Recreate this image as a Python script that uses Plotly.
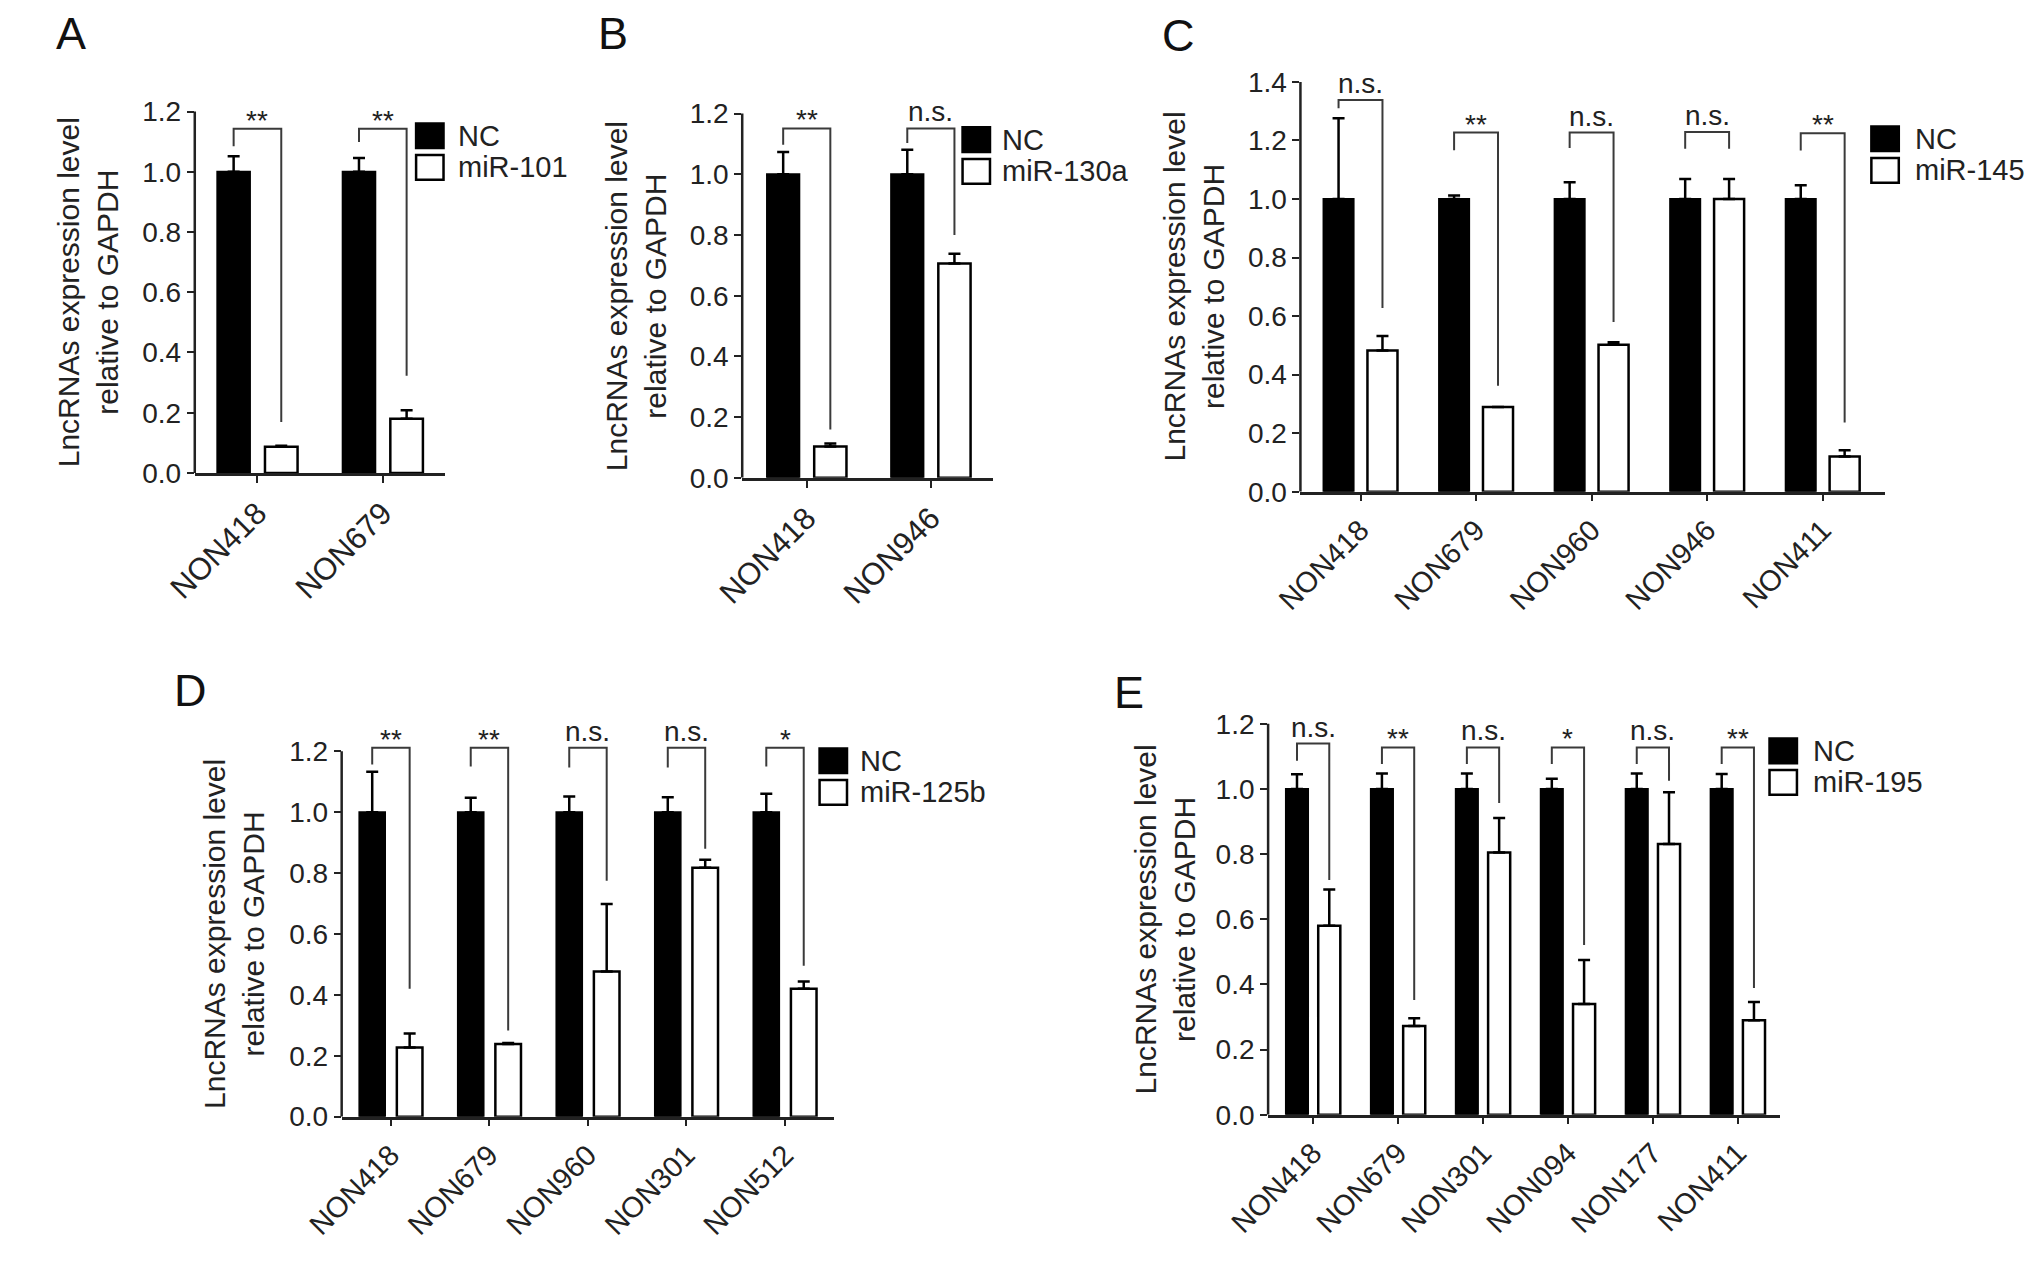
import plotly.graph_objects as go

W, H = 2031, 1263
FONT = "Liberation Sans, Arial, Helvetica, sans-serif"
Y_TITLE = "LncRNAs expression level<br>relative to GAPDH"

# ---- panel A (miR-101)
A_CATS = ["NON418", "NON679"]
A_LEGEND = ["NC", "miR-101"]
A_NC = [1.0, 1.0]
A_NC_ERR = [0.052, 0.046]
A_MIR = [0.087, 0.18]
A_MIR_ERR = [0.003, 0.028]
A_SIG = ["**", "**"]
A_BR_TOP = [1.143, 1.143]
A_BR_LEFT = [1.085, 1.099]
A_BR_RIGHT = [0.169, 0.323]

# ---- panel B (miR-130a)
B_CATS = ["NON418", "NON946"]
B_LEGEND = ["NC", "miR-130a"]
B_NC = [1.0, 1.0]
B_NC_ERR = [0.073, 0.081]
B_MIR = [0.103, 0.706]
B_MIR_ERR = [0.01, 0.032]
B_SIG = ["**", "n.s."]
B_BR_TOP = [1.151, 1.151]
B_BR_LEFT = [1.097, 1.103]
B_BR_RIGHT = [0.159, 0.80]

# ---- panel C (miR-145)
C_CATS = ["NON418", "NON679", "NON960", "NON946", "NON411"]
C_LEGEND = ["NC", "miR-145"]
C_NC = [1.0, 1.0, 1.0, 1.0, 1.0]
C_NC_ERR = [0.276, 0.012, 0.057, 0.068, 0.047]
C_MIR = [0.482, 0.289, 0.502, 1.0, 0.12]
C_MIR_ERR = [0.05, 0.0, 0.009, 0.068, 0.022]
C_SIG = ["n.s.", "**", "n.s.", "n.s.", "**"]
C_BR_TOP = [1.338, 1.227, 1.227, 1.229, 1.225]
C_BR_LEFT = [1.31, 1.167, 1.174, 1.172, 1.166]
C_BR_RIGHT = [0.628, 0.362, 0.58, 1.172, 0.236]

# ---- panel D (miR-125b)
D_CATS = ["NON418", "NON679", "NON960", "NON301", "NON512"]
D_LEGEND = ["NC", "miR-125b"]
D_NC = [1.0, 1.0, 1.0, 1.0, 1.0]
D_NC_ERR = [0.133, 0.048, 0.052, 0.049, 0.061]
D_MIR = [0.227, 0.239, 0.477, 0.818, 0.42]
D_MIR_ERR = [0.046, 0.003, 0.222, 0.026, 0.024]
D_SIG = ["**", "**", "n.s.", "n.s.", "*"]
D_BR_TOP = [1.212, 1.212, 1.212, 1.212, 1.212]
D_BR_LEFT = [1.157, 1.15, 1.147, 1.147, 1.15]
D_BR_RIGHT = [0.42, 0.283, 0.775, 0.88, 0.496]

# ---- panel E (miR-195)
E_CATS = ["NON418", "NON679", "NON301", "NON094", "NON177", "NON411"]
E_LEGEND = ["NC", "miR-195"]
E_NC = [1.0, 1.0, 1.0, 1.0, 1.0, 1.0]
E_NC_ERR = [0.045, 0.047, 0.047, 0.031, 0.047, 0.046]
E_MIR = [0.58, 0.272, 0.805, 0.34, 0.831, 0.29]
E_MIR_ERR = [0.111, 0.024, 0.106, 0.135, 0.159, 0.056]
E_SIG = ["n.s.", "**", "n.s.", "*", "n.s.", "**"]
E_BR_TOP = [1.139, 1.127, 1.127, 1.127, 1.127, 1.127]
E_BR_LEFT = [1.086, 1.076, 1.076, 1.076, 1.076, 1.076]
E_BR_RIGHT = [0.72, 0.352, 0.957, 0.521, 1.025, 0.389]

PANELS = [
    ("A", A_CATS, A_LEGEND, A_NC, A_NC_ERR, A_MIR, A_MIR_ERR, A_SIG, A_BR_TOP, A_BR_LEFT, A_BR_RIGHT),
    ("B", B_CATS, B_LEGEND, B_NC, B_NC_ERR, B_MIR, B_MIR_ERR, B_SIG, B_BR_TOP, B_BR_LEFT, B_BR_RIGHT),
    ("C", C_CATS, C_LEGEND, C_NC, C_NC_ERR, C_MIR, C_MIR_ERR, C_SIG, C_BR_TOP, C_BR_LEFT, C_BR_RIGHT),
    ("D", D_CATS, D_LEGEND, D_NC, D_NC_ERR, D_MIR, D_MIR_ERR, D_SIG, D_BR_TOP, D_BR_LEFT, D_BR_RIGHT),
    ("E", E_CATS, E_LEGEND, E_NC, E_NC_ERR, E_MIR, E_MIR_ERR, E_SIG, E_BR_TOP, E_BR_LEFT, E_BR_RIGHT),
]

# placement in pixels: plot x0, x1, y top (at ymax), y bottom (at 0), x range, y max,
# letter (x, y), y-title x, legend box x, legend first box top, legend text x, x tick font
GEOM = {
    "A": dict(x0=156, x1=412, yt=113, yb=479, xr=[-0.5, 1.5], ymax=1.2,
              let=(30, 34), yt_x=47, lg_x=382, lg_y=125, lg_tx=423, xfs=31),
    "B": dict(x0=715, x1=971, yt=115, yb=484, xr=[-0.52, 1.5], ymax=1.2,
              let=(583, 34), yt_x=606, lg_x=940, lg_y=129, lg_tx=978, xfs=31),
    "C": dict(x0=1285, x1=1882, yt=83, yb=498, xr=[-0.52, 4.54], ymax=1.4,
              let=(1161, 36), yt_x=1176, lg_x=1868, lg_y=128, lg_tx=1910, xfs=29),
    "D": dict(x0=306, x1=809, yt=761, yb=1131, xr=[-0.5, 4.5], ymax=1.2,
              let=(152, 699), yt_x=196, lg_x=794, lg_y=758, lg_tx=833, xfs=29),
    "E": dict(x0=1252, x1=1775, yt=733, yb=1129, xr=[-0.53, 5.5], ymax=1.2,
              let=(1110, 701), yt_x=1147, lg_x=1764, lg_y=748, lg_tx=1806, xfs=29),
}

OFF = 0.19    # half distance between the two bars of a group
BW = 0.26     # bar width
EXT = 1.1     # y axis reaches a bit above the last tick so the brackets are not clipped
BOX_W, BOX_H, BOX_GAP = 28, 25, 7


def fx(p):
    return p / W


def fy(p):
    return 1 - p / H


fig = go.Figure()
shapes = []
annotations = []

for k, (letter, cats, legend, nc, nc_err, mir, mir_err, sig, br_top, br_left, br_right) in enumerate(PANELS, start=1):
    g = GEOM[letter]
    n = len(cats)
    sfx = "" if k == 1 else str(k)
    xa, ya = "x" + sfx, "y" + sfx
    idx = list(range(n))

    fig.add_trace(go.Bar(
        x=[i - OFF for i in idx], y=nc, width=BW,
        marker=dict(color="black", line=dict(color="black", width=2)),
        error_y=dict(type="data", symmetric=False, array=nc_err, arrayminus=[0] * n,
                     color="black", thickness=2.5, width=6),
        xaxis=xa, yaxis=ya, showlegend=False, cliponaxis=False,
    ))
    fig.add_trace(go.Bar(
        x=[i + OFF for i in idx], y=mir, width=BW,
        marker=dict(color="white", line=dict(color="black", width=2.5)),
        error_y=dict(type="data", symmetric=False, array=mir_err, arrayminus=[0] * n,
                     color="black", thickness=2.5, width=6),
        xaxis=xa, yaxis=ya, showlegend=False, cliponaxis=False,
    ))

    # significance brackets
    bx, by = [], []
    for i in idx:
        bx += [i - OFF, i - OFF, i + OFF, i + OFF, None]
        by += [br_left[i], br_top[i], br_top[i], br_right[i], None]
    fig.add_trace(go.Scatter(
        x=bx, y=by, mode="lines", line=dict(color="#3a3a3a", width=2),
        xaxis=xa, yaxis=ya, showlegend=False, hoverinfo="skip",
    ))
    for i in idx:
        star = sig[i] != "n.s."
        annotations.append(dict(
            x=i, y=br_top[i], xref=xa, yref=ya, text=sig[i], showarrow=False,
            xanchor="center", yanchor="bottom", yshift=-9 if star else -1,
            font=dict(family=FONT, size=28, color="#222"),
        ))

    ytick_font = dict(family=FONT, size=28, color="#222")
    xtick_font = dict(family=FONT, size=g["xfs"], color="#222")
    top_ext = g["yb"] - (g["yb"] - g["yt"]) * EXT
    n_ticks = int(round(g["ymax"] / 0.2)) + 1
    yticks = [round(0.2 * t, 1) for t in range(n_ticks)]
    fig.update_layout({
        "xaxis" + sfx: dict(
            domain=[fx(g["x0"]), fx(g["x1"])], range=g["xr"], anchor=ya,
            tickmode="array", tickvals=idx, ticktext=cats, tickangle=-45,
            ticks="outside", ticklen=7, tickwidth=2, tickcolor="#222",
            showline=True, linecolor="#222", linewidth=2.5,
            showgrid=False, zeroline=False, tickfont=xtick_font,
        ),
        "yaxis" + sfx: dict(
            domain=[fy(g["yb"]), fy(top_ext)], range=[0, g["ymax"] * EXT], anchor=xa,
            tickmode="array", tickvals=yticks, ticktext=[f"{v:.1f}" for v in yticks],
            ticks="outside", ticklen=7, tickwidth=2, tickcolor="#222",
            showline=False, showgrid=False, zeroline=False, tickfont=ytick_font,
        ),
    })
    # y axis spine, stopping at the last tick
    shapes.append(dict(
        type="line", xref=xa + " domain", yref=ya, x0=0, x1=0, y0=0, y1=g["ymax"],
        line=dict(color="#222", width=2.5),
    ))

    # panel letter
    annotations.append(dict(
        x=fx(g["let"][0]), y=fy(g["let"][1]), xref="paper", yref="paper",
        text=letter, showarrow=False, xanchor="center", yanchor="middle",
        font=dict(family=FONT, size=45, color="#111"),
    ))
    # y axis title
    annotations.append(dict(
        x=fx(g["yt_x"]), y=fy((g["yt"] + g["yb"]) / 2), xref="paper", yref="paper",
        text=Y_TITLE, textangle=-90, showarrow=False, xanchor="center", yanchor="middle",
        font=dict(family=FONT, size=30, color="#222"),
    ))

    # legend drawn in pixel positions
    for j, (name, fill) in enumerate(zip(legend, ["black", "white"])):
        top = g["lg_y"] + j * (BOX_H + BOX_GAP)
        shapes.append(dict(
            type="rect", xref="paper", yref="paper",
            x0=fx(g["lg_x"]), x1=fx(g["lg_x"] + BOX_W), y0=fy(top + BOX_H), y1=fy(top),
            fillcolor=fill, line=dict(color="black", width=2.5),
        ))
        annotations.append(dict(
            x=fx(g["lg_tx"]), y=fy(top + BOX_H / 2), xref="paper", yref="paper",
            text=name, showarrow=False, xanchor="left", yanchor="middle",
            font=dict(family=FONT, size=29, color="#222"),
        ))

fig.update_layout(
    width=W, height=H, margin=dict(l=0, r=0, t=0, b=0),
    paper_bgcolor="white", plot_bgcolor="white",
    barmode="overlay", showlegend=False,
    shapes=shapes, annotations=annotations,
    font=dict(family=FONT, color="#222"),
)

fig.write_html("out.html", config={"displayModeBar": False},
               post_script="document.body.style.margin='0';document.body.style.overflow='hidden';")
